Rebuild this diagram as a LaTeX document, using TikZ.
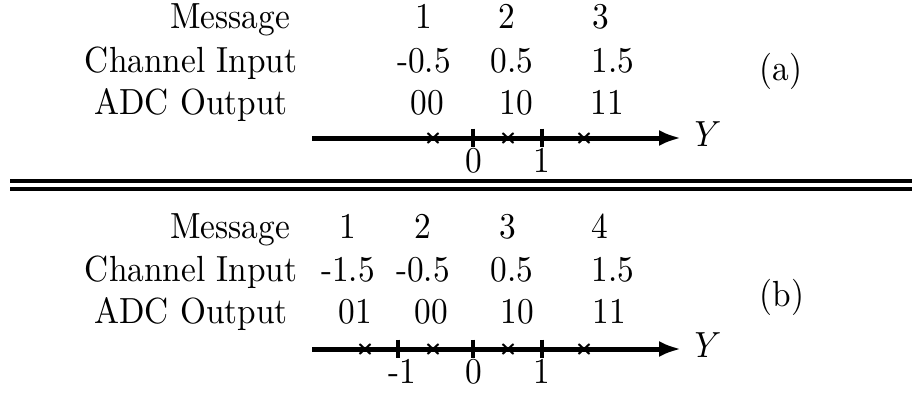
\documentclass[tikz,border=0pt]{standalone}
\usepackage{graphicx}
\usetikzlibrary{arrows.meta}
\newcommand{\vstretch}[1]{\scalebox{1}[1.09]{#1}}
\tikzset{
  txt/.style={inner sep=0pt, anchor=base, font=\fontsize{10}{12}\selectfont},
  axisline/.style={line width=1.5pt, -{Latex[length=6.6pt,width=4.8pt]}},
  tickline/.style={line width=1.35pt},
  sepline/.style={line width=1.2pt},
  xmark/.pic={\draw[line width=0.6pt] (-5.5,-5) -- (5.5,5) (-5.5,5) -- (5.5,-5);},
  tickmark/.pic={\draw[tickline] (0,-9.5) -- (0,8.5);}
}
\begin{document}
\begin{tikzpicture}[x=0.3pt,y=-0.3pt]
\useasboundingbox (0,0) rectangle (912,394);
% ---------- panel (a)
\node[txt] (ma) at (230,28) {\vstretch{Message}};
\node[txt] (ca) at (191,72) {\vstretch{Channel Input}};
\node[txt] (aa) at (191,114) {\vstretch{ADC Output}};
\node[txt] (ma1) at (424,28) {\vstretch{1}};
\node[txt] (ma2) at (507,28) {\vstretch{2}};
\node[txt] (ma3) at (601,28) {\vstretch{3}};
\node[txt] (ca1) at (424,72) {\vstretch{-0.5}};
\node[txt] (ca2) at (512,72) {\vstretch{0.5}};
\node[txt] (ca3) at (613,72) {\vstretch{1.5}};
\node[txt] (aa1) at (427,114) {\vstretch{00}};
\node[txt] (aa2) at (516,114) {\vstretch{10}};
\node[txt] (aa3) at (607,114) {\vstretch{11}};
\node[inner sep=0pt, font=\fontsize{10}{12}\selectfont] (la) at (781,71) {\vstretch{(a)}};
\coordinate (asa) at (312,138);
\coordinate (aea) at (681,138);
\draw[axisline] (asa) -- (aea);
\node[txt, anchor=base west] (ya) at (694,146) {\vstretch{$Y$}};
\pic at (473,138) {tickmark};
\pic at (542,138) {tickmark};
\pic at (433,138) {xmark};
\pic at (508,138) {xmark};
\pic at (584,138) {xmark};
\node[txt] (ta0) at (474,172) {\vstretch{0}};
\node[txt] (ta1) at (542,172) {\vstretch{1}};
% ---------- separator
\coordinate (s1l) at (10,180.5);
\coordinate (s1r) at (912,180.5);
\coordinate (s2l) at (10,189);
\coordinate (s2r) at (912,189);
\draw[sepline] (s1l) -- (s1r);
\draw[sepline] (s2l) -- (s2r);
% ---------- panel (b)
\node[txt] (mb) at (230,238) {\vstretch{Message}};
\node[txt] (cb) at (191,281) {\vstretch{Channel Input}};
\node[txt] (ab) at (191,323) {\vstretch{ADC Output}};
\node[txt] (mb1) at (348,238) {\vstretch{1}};
\node[txt] (mb2) at (423,238) {\vstretch{2}};
\node[txt] (mb3) at (508,238) {\vstretch{3}};
\node[txt] (mb4) at (600,238) {\vstretch{4}};
\node[txt] (cb1) at (348,281) {\vstretch{-1.5}};
\node[txt] (cb2) at (423,281) {\vstretch{-0.5}};
\node[txt] (cb3) at (512,281) {\vstretch{0.5}};
\node[txt] (cb4) at (613,281) {\vstretch{1.5}};
\node[txt] (ab1) at (355,323) {\vstretch{01}};
\node[txt] (ab2) at (431,323) {\vstretch{00}};
\node[txt] (ab3) at (517,323) {\vstretch{10}};
\node[txt] (ab4) at (609,323) {\vstretch{11}};
\node[inner sep=0pt, font=\fontsize{10}{12}\selectfont] (lb) at (782,297) {\vstretch{(b)}};
\coordinate (asb) at (312,349);
\coordinate (aeb) at (681,349);
\draw[axisline] (asb) -- (aeb);
\node[txt, anchor=base west] (yb) at (694,357) {\vstretch{$Y$}};
\pic at (398,349) {tickmark};
\pic at (473,349) {tickmark};
\pic at (542,349) {tickmark};
\pic at (365,349) {xmark};
\pic at (433,349) {xmark};
\pic at (508,349) {xmark};
\pic at (584,349) {xmark};
\node[txt] (tbm) at (402,383) {\vstretch{-1}};
\node[txt] (tb0) at (474,383) {\vstretch{0}};
\node[txt] (tb1) at (542,383) {\vstretch{1}};
\end{tikzpicture}
\end{document}
